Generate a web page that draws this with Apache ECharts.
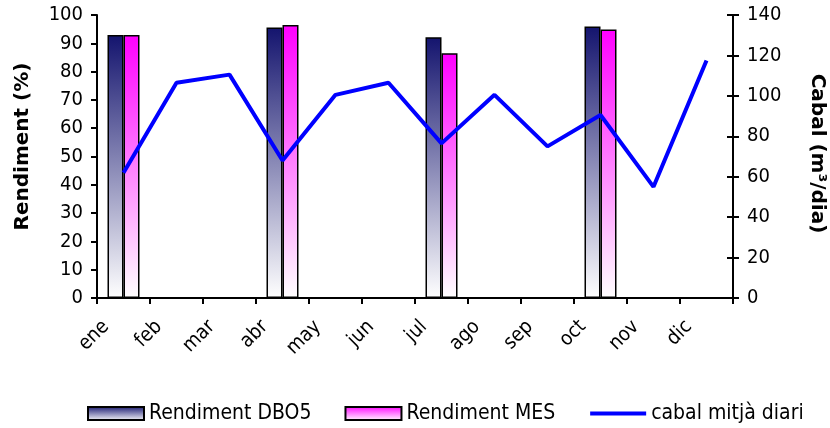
<!DOCTYPE html>
<html><head><meta charset="utf-8">
<script src="https://cdn.jsdelivr.net/npm/echarts@6/dist/echarts.min.js"></script>
<style>html,body{margin:0;padding:0;background:#fff}#c{width:830px;height:428px}</style>
</head><body><div id="c"></div>
<script>
const months = ['ene','feb','mar','abr','may','jun','jul','ago','sep','oct','nov','dic'];
const rendDBO5 = [92.9,null,null,95.6,null,null,92.1,null,null,95.9,null,null];
const rendMES  = [92.9,null,null,96.5,null,null,86.5,null,null,94.9,null,null];
const cabal    = [62,106.5,110.5,68,100.5,106.5,76.5,100.5,75,90.5,55,117.5];
const seriesNames = ['Rendiment DBO5','Rendiment MES','cabal mitjà diari'];
const leftAxisTitle = 'Rendiment (%)';
const rightAxisTitle = 'Cabal (m³/dia)';

const FONT = '"DejaVu Sans Condensed","DejaVu Sans",sans-serif';
const TFONT = '"DejaVu Sans",sans-serif';
const chart = echarts.init(document.getElementById('c'), null, {renderer:'canvas'});
const axisLineStyle = {color:'#000', width:2};
const grad = (top) => new echarts.graphic.LinearGradient(0,0,0,1,[{offset:0,color:top},{offset:1,color:'#ffffff'}]);

chart.setOption({
  animation:false,
  backgroundColor:'#fff',
  textStyle:{fontFamily:FONT},
  grid:{left:97,right:97,top:15,bottom:130,containLabel:false,outerBoundsMode:'none'},
  legend:{
    left:87, top:403, padding:0, itemWidth:56, itemHeight:13, itemGap:33,
    textStyle:{fontFamily:FONT,fontSize:21,color:'#000',lineHeight:20},
    data:[
      {name:seriesNames[0],icon:'rect'},
      {name:seriesNames[1],icon:'rect'},
      {name:seriesNames[2],itemStyle:{opacity:0},lineStyle:{width:4,color:'#0000ff'}}
    ]
  },
  xAxis:{
    type:'category', data:months, boundaryGap:true,
    axisLine:{lineStyle:axisLineStyle},
    axisTick:{show:true,length:6,lineStyle:axisLineStyle},
    axisLabel:{rotate:45,margin:8,padding:[0,25,0,0],fontFamily:FONT,fontSize:20,color:'#000',interval:0}
  },
  yAxis:[
    {type:'value',position:'left',min:0,max:100,interval:10,
     name:leftAxisTitle,nameLocation:'middle',nameGap:64,nameRotate:90,
     nameTextStyle:{fontFamily:TFONT,fontSize:20,fontWeight:'bold',color:'#000',padding:[0,0,0,20]},
     axisLine:{show:true,lineStyle:axisLineStyle},
     axisTick:{show:true,length:6,lineStyle:axisLineStyle},
     axisLabel:{margin:14,fontFamily:FONT,fontSize:20,color:'#000'},
     splitLine:{show:false}},
    {type:'value',position:'right',min:0,max:140,interval:20,
     name:rightAxisTitle,nameLocation:'middle',nameGap:74,nameRotate:-90,
     nameTextStyle:{fontFamily:TFONT,fontSize:20,fontWeight:'bold',color:'#000',padding:[0,6,0,0]},
     axisLine:{show:true,lineStyle:axisLineStyle},
     axisTick:{show:true,length:6,lineStyle:axisLineStyle},
     axisLabel:{margin:14,fontFamily:FONT,fontSize:20,color:'#000'},
     splitLine:{show:false}},
    {type:'value',position:'right',offset:0,min:0,max:140,interval:20,
     axisLine:{show:false},
     axisTick:{show:true,inside:true,length:6,lineStyle:axisLineStyle},
     axisLabel:{show:false},splitLine:{show:false}}
  ],
  series:[
    {name:seriesNames[0],type:'bar',yAxisIndex:0,data:rendDBO5,barWidth:16,barGap:'0%',
     itemStyle:{color:grad('#14146e'),borderColor:'#000',borderWidth:1.5}},
    {name:seriesNames[1],type:'bar',yAxisIndex:0,data:rendMES,barWidth:16,barGap:'0%',
     itemStyle:{color:grad('#ff00ff'),borderColor:'#000',borderWidth:1.5}},
    {name:seriesNames[2],type:'line',yAxisIndex:1,data:cabal,symbol:'none',
     lineStyle:{color:'#0000ff',width:4},itemStyle:{color:'#0000ff'},z:5}
  ]
});
</script></body></html>
